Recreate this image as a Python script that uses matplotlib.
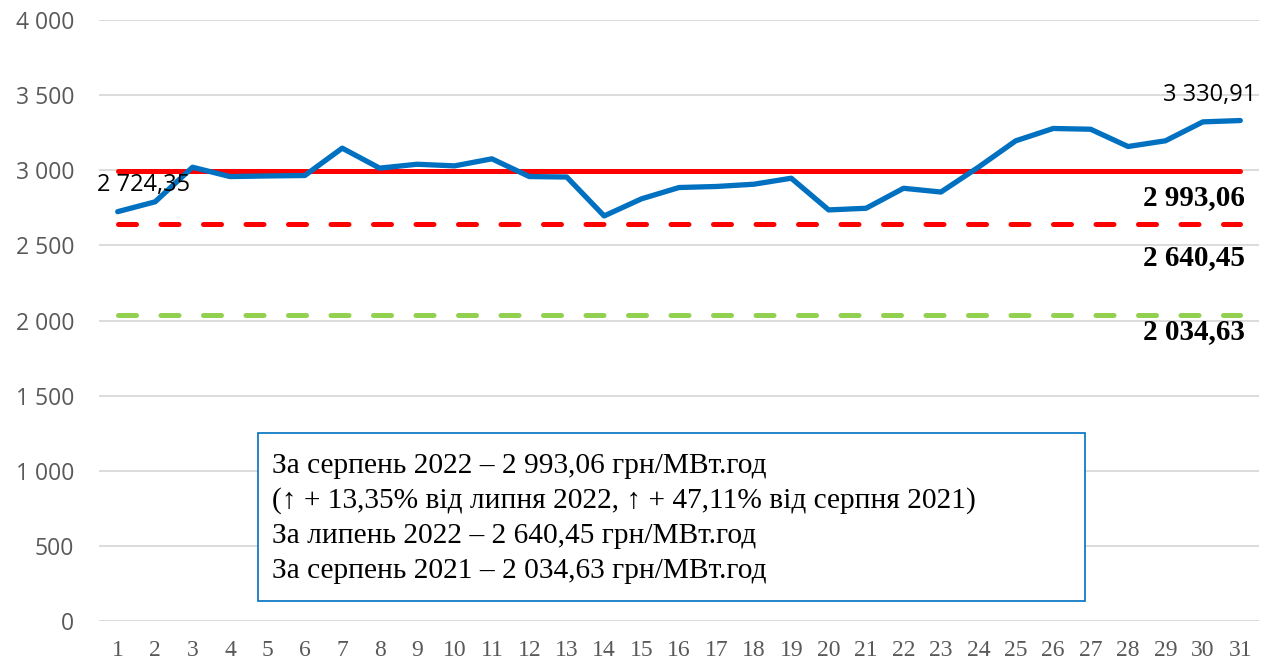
import matplotlib.pyplot as plt
from matplotlib.patches import Rectangle

days = list(range(1, 32))
prices = [2724.35, 2790, 3020, 2958, 2962, 2965, 3147, 3014, 3040, 3029,
          3076, 2958, 2955, 2696, 2810, 2885, 2892, 2907, 2947, 2736,
          2747, 2880, 2855, 3020, 3196, 3278, 3273, 3158, 3196, 3322,
          3330.91]
avg_aug_2022 = 2993.06
avg_jul_2022 = 2640.45
avg_aug_2021 = 2034.63
y_ticks = [0, 500, 1000, 1500, 2000, 2500, 3000, 3500, 4000]
y_labels = ['0', '500', '1 000', '1 500', '2 000', '2 500', '3 000', '3 500', '4 000']
box_lines = [
    'За серпень 2022 – 2 993,06 грн/МВт.год',
    '(↑ + 13,35% від липня 2022, ↑ + 47,11% від серпня 2021)',
    'За липень 2022 – 2 640,45 грн/МВт.год',
    'За серпень 2021 – 2 034,63 грн/МВт.год',
]

serif = ['Liberation Serif', 'DejaVu Serif']
W, H = 1261, 663

fig = plt.figure(figsize=(W / 100, H / 100), dpi=100)
ax = fig.add_axes([99 / W, 42 / H, 1160 / W, 601 / H])

ax.plot(days, [avg_aug_2021] * 31, color='#92D050', lw=3.6,
        dashes=(3.6, 4.9), dash_capstyle='round', zorder=3)
ax.plot(days, [avg_jul_2022] * 31, color='#FF0000', lw=3.6,
        dashes=(3.6, 4.9), dash_capstyle='round', zorder=3)
ax.plot(days, [avg_aug_2022] * 31, color='#FF0000', lw=3.6,
        solid_capstyle='round', zorder=4)
ax.plot(days, prices, color='#0070C0', lw=3.8, solid_capstyle='round',
        solid_joinstyle='round', zorder=5)

ax.set_xlim(0.5, 31.5)
ax.set_ylim(0, 4000)
ax.set_yticks(y_ticks)
ax.set_yticklabels(y_labels, family='Open Sans', fontsize=16.5, color='#595959')
ax.set_xticks(days)
ax.set_xticklabels([str(d) for d in days], family=serif, fontsize=17, color='#595959')
ax.tick_params(axis='y', length=0, pad=18)
ax.tick_params(axis='x', length=0, pad=14)
ax.grid(axis='y', color='#D9D9D9', lw=1.3)
ax.set_axisbelow(True)
for s in ax.spines.values():
    s.set_visible(False)

# data labels (positions in pixels of the figure)
fig.text(97 / W, 1 - 185 / H, '2 724,35', fontsize=17, family='Open Sans',
         ha='left', va='center', zorder=6)
fig.text(1256 / W, 1 - 95 / H, '3 330,91', fontsize=17, family='Open Sans',
         ha='right', va='center', zorder=6)
for ypx, txt in [(198, '2 993,06'), (258, '2 640,45'), (332, '2 034,63')]:
    fig.text(1245 / W, 1 - ypx / H, txt, fontsize=21, family=serif,
             fontweight='bold', ha='right', va='center', zorder=6)

# text box
ax.add_patch(Rectangle((258 / W, (H - 601) / H), 827 / W, 168 / H,
                       transform=fig.transFigure, facecolor='white',
                       edgecolor='#0070C0', lw=1.2, zorder=7, clip_on=False))
for i, line in enumerate(box_lines):
    fig.text(272 / W, 1 - (466 + 35 * i) / H, line, family=serif,
             fontsize=21.2, va='center', ha='left', zorder=8)

fig.savefig('out.png', dpi=100)
